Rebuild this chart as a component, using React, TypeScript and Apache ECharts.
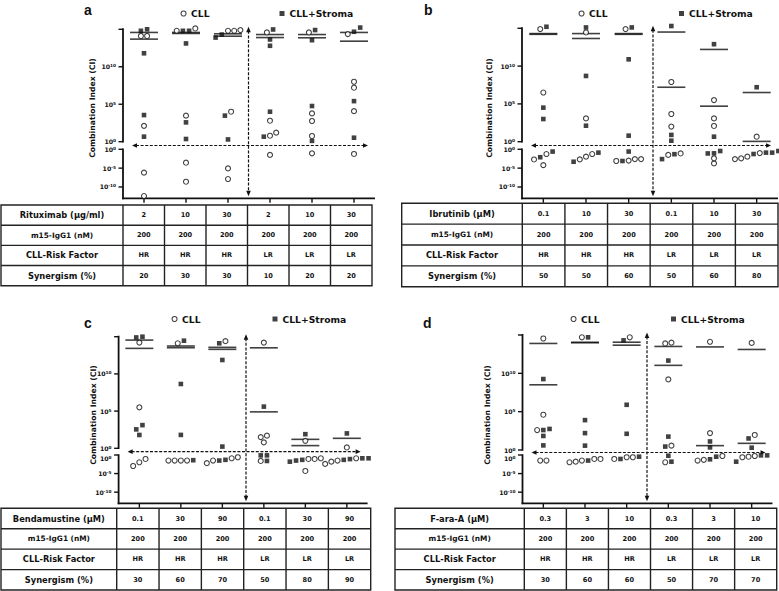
import React, { useEffect, useRef } from "react";
import * as echarts from "echarts";

// ---------------- data ----------------
const riskFactors = ["HR", "HR", "HR", "LR", "LR", "LR"];
const m15Doses = ["200", "200", "200", "200", "200", "200"];
const rowLabels = ["m15-IgG1 (nM)", "CLL-Risk Factor", "Synergism (%)"];
const upperTicks = [1, 1e5, 1e10, 1e15];
const lowerTicks = [1e-10, 1e-5, 1];
const upperMin = 1;
const upperMax = 1e15;
const lowerMin = 1e-13;
const lowerMax = 1;

// Panel a – Rituximab
const drugA = "Rituximab (μg/ml)";
const dosesA = ["2", "10", "30", "2", "10", "30"];
const synergismA = [20, 30, 30, 10, 20, 20];
const cllA = [
  [1.3e14, 1.3e14, 1.3e2, 6.3e-7, 4e-13],
  [6.3e14, 1.3e15, 3e3, 2.8e-4, 2.5e-9],
  [7.9e14, 6.3e14, 6.3e14, 1e4, 8.5e-6, 1.3e-8],
  [3.8e14, 6.3e2, 16, 6.3, 3.2e-2],
  [3.8e14, 6e3, 5.8e2, 5.8, 8.5e-2],
  [2.3e14, 1e8, 1.6e7, 1.2e4, 5.8e-2],
];
const stromaA = [
  [1e15, 6.3e14, 6.3e11, 3.6e3, 4.7],
  [6.3e14, 6.3e14, 1.3e13, 3.8e2, 2.3],
  [2e14, 7.9e13, 3e3, 2],
  [9.5e14, 4.4e13, 6.3e12, 1e4, 4.7],
  [7.9e14, 3.5e13, 5.8e4, 1.3],
  [1.7e15, 4.7e14, 2.6e5, 3.4],
];
const meanCllA = [4.9e13, 3.8e14, 2.5e14, 7.9e13, 7.4e13, 2.6e13];
const meanStromaA = [3.8e14, 2.8e14, 1.2e14, 2e14, 2e14, 3.8e14];

// Panel b – Ibrutinib
const drugB = "Ibrutinib (μM)";
const dosesB = ["0.1", "10", "30", "0.1", "10", "30"];
const synergismB = [50, 50, 60, 50, 60, 80];
const cllB = [
  [7.9e14, 3.2e6, 5.6e-2, 2e-3, 6.3e-5],
  [2.8e14, 1.2e3, 5.6e-2, 1.1e-2, 2.1e-3],
  [7.9e14, 2.5e-3, 7.9e-4, 1e-3, 2.5e-3],
  [7.9e7, 4.6e3, 1e2, 7.9e-2, 3.2e-2],
  [3.2e5, 1.2e3, 1.2e2, 4e-3, 1.8e-4],
  [4.6, 0.1, 1.1e-2, 2.5e-3, 4e-3],
];
const stromaB = [
  [1.6e15, 3.2e4, 1e3, 0.25, 7.9e-3],
  [1.3e15, 5e8, 1.3e2, 0.13, 5e-4],
  [1.3e15, 7.9e10, 6.3, 0.25, 7.9e-4],
  [2e15, 7.9, 1.35, 5e-2, 2.5e-3],
  [7.9e12, 4.6, 7.9e-2, 0.35, 8.5e-2],
  [1.6e7, 0.13, 5.6e-2, 0.13, 0.35],
];
const meanCllB = [1.6e14, 4.5e13, 1.6e14, 1.6e7, 5e4, 1.1];
const meanStromaB = [2e14, 2e14, 2e14, 3.2e14, 1.6e12, 3.2e6];

// Panel c – Bendamustine
const drugC = "Bendamustine (μM)";
const dosesC = ["0.1", "30", "90", "0.1", "30", "90"];
const synergismC = [30, 60, 70, 50, 80, 90];
const cllC = [
  [1.6e14, 3.2e5, 8.5e-2, 1.1e-2, 1.1e-3],
  [1.3e14, 3.2e-2, 3.2e-2, 3.2e-2, 3.2e-2],
  [2.5e14, 0.13, 6.3e-3, 3.2e-2, 0.25],
  [1.6e14, 50, 32, 6.3, 2.5e-2],
  [10, 0.13, 8.5e-2, 8.5e-2, 5e-5],
  [1.3, 0.13, 1.6e-2, 4e-3, 3.2e-2],
];
const stromaC = [
  [7.9e14, 1e15, 1.3e3, 3.5e2, 62],
  [2.9e14, 4.4e8, 63, 4e-2],
  [1.3e14, 7.4e11, 1.7, 5e-2, 3.2e-2],
  [4e5, 0.8, 0.8, 2.5e-2],
  [79, 5e-2, 3.2e-2, 1.6e-2],
  [1e2, 0.13, 7.9e-2, 0.13, 5e-2],
];
const meanCllC = [2.7e13, 3.3e13, 3.7e13, 3.2e13, 2.3, null];
const meanStromaC = [3.5e14, 5.6e13, 2e13, 7.9e4, 16, 22];

// Panel d – F-ara-A
const drugD = "F-ara-A (μM)";
const dosesD = ["0.3", "3", "10", "0.3", "3", "10"];
const synergismD = [30, 60, 60, 50, 70, 70];
const cllD = [
  [3.5e14, 4e4, 4e2, 3.2e-2, 3.2e-2],
  [5e14, 8.5e-2, 3.2e-2, 1.6e-2, 1.1e-2, 8.5e-2],
  [5e14, 8.5e-2, 0.25, 0.25],
  [7.9e13, 1e14, 1.6e9, 3.7, 1.1e-2],
  [1.3e14, 1.6e2, 0.54, 3.2e-2, 5e-2],
  [9.3e13, 91, 0.54, 0.35, 0.25],
];
const stromaD = [
  [1.8e9, 4e2, 5.6e2, 68, 4],
  [5e14, 7.9e3, 1.6e2, 3.7, 3.2e-2],
  [2e14, 7.9e5, 1.3e2, 0.35, 8.5e-2],
  [4.6e11, 56, 2.8, 0.63, 1.6e-2],
  [13, 2.2, 6.9e-2, 0.35],
  [32, 2, 0.8, 0.8, 1.6e-2],
];
const meanCllD = [7.9e13, 1.1e14, 1.15e14, 3.2e13, 2.8e13, 1.3e13];
const meanStromaD = [3.2e8, 1e14, 4.7e13, 1.1e11, 3.7, 7.4];

// ---------------- layout (pixels) ----------------
const layoutA = { gridLeft: 123, gridW: 252, upTop: 29.3, upH: 112.4, lowTop: 149.3, lowH: 49, vx: 248.5, nameX: 92, nameY: 108, letterX: 84, letterY: 3, legendY: 15, legCllX: 183, legStrX: 282, tLeft: 1, tFirst: 123, tRight: 372, tTop: 205, tBottom: 285.7 };
const layoutB = { gridLeft: 522, gridW: 256, upTop: 28.3, upH: 113.4, lowTop: 149.3, lowH: 49, vx: 653, nameX: 489, nameY: 108, letterX: 424, letterY: 3, legendY: 15, legCllX: 581, legStrX: 681.5, tLeft: 401.7, tFirst: 522.3, tRight: 778, tTop: 203.3, tBottom: 286.7 };
const layoutC = { gridLeft: 118.6, gridW: 249, upTop: 336.7, upH: 111.6, lowTop: 455, lowH: 48.3, vx: 246, nameX: 93, nameY: 415, letterX: 84, letterY: 316, legendY: 320.5, legCllX: 174, legStrX: 275, tLeft: 1, tFirst: 116.7, tRight: 370.7, tTop: 508.3, tBottom: 590 };
const layoutD = { gridLeft: 522.5, gridW: 250, upTop: 335, upH: 115, lowTop: 455, lowH: 48.3, vx: 647, nameX: 487.5, nameY: 415, letterX: 423, letterY: 316, legendY: 320.5, legCllX: 573, legStrX: 673.5, tLeft: 395, tFirst: 524.3, tRight: 776.7, tTop: 508.3, tBottom: 590 };

const PANELS = [
  { letter: "a", drug: drugA, doses: dosesA, syn: synergismA, cll: cllA, stroma: stromaA, meanCll: meanCllA, meanStroma: meanStromaA, L: layoutA },
  { letter: "b", drug: drugB, doses: dosesB, syn: synergismB, cll: cllB, stroma: stromaB, meanCll: meanCllB, meanStroma: meanStromaB, L: layoutB },
  { letter: "c", drug: drugC, doses: dosesC, syn: synergismC, cll: cllC, stroma: stromaC, meanCll: meanCllC, meanStroma: meanStromaC, L: layoutC },
  { letter: "d", drug: drugD, doses: dosesD, syn: synergismD, cll: cllD, stroma: stromaD, meanCll: meanCllD, meanStroma: meanStromaD, L: layoutD },
];

const FONT = "DejaVu Sans";
const INK = "#111";

function swarm(cll: number[][], stroma: number[][], upper: boolean, pxPerDec: number) {
  const out: { cll: any[]; stroma: any[] } = { cll: [], stroma: [] };
  cll.forEach((_, cat) => {
    const pts: { v: number; kind: "cll" | "stroma" }[] = [];
    cll[cat].forEach((v) => { if ((v >= 1) === upper) pts.push({ v, kind: "cll" }); });
    stroma[cat].forEach((v) => { if ((v >= 1) === upper) pts.push({ v, kind: "stroma" }); });
    pts.sort((a, b) => a.v - b.v);
    const clusters: (typeof pts)[] = [];
    let cur: typeof pts = [];
    let prev = -Infinity;
    pts.forEach((p) => {
      const y = Math.log10(p.v) * pxPerDec;
      if (cur.length && y - prev < 4.6) cur.push(p);
      else { if (cur.length) clusters.push(cur); cur = [p]; }
      prev = y;
    });
    if (cur.length) clusters.push(cur);
    clusters.forEach((cl) => {
      const n = cl.length;
      cl.forEach((p, k) => {
        out[p.kind].push({ value: [cat, p.v], symbolOffset: [(k - (n - 1) / 2) * 6.2, 0] });
      });
    });
  });
  return out;
}

const powLabel = (v: number) => `{b|10}{s|${Math.round(Math.log10(v))}}`;
const richPow = {
  b: { fontSize: 6.2, fontWeight: "bold", fontFamily: FONT, color: INK, lineHeight: 6, verticalAlign: "bottom" },
  s: { fontSize: 4.3, fontWeight: "bold", fontFamily: FONT, color: INK, lineHeight: 6, verticalAlign: "top" },
};

function yAxisDef(gridIndex: number, min: number, max: number, ticks: number[], pushDown: boolean) {
  return {
    type: "log", logBase: 10, gridIndex, min, max,
    axisLine: { show: false },
    axisTick: { show: false },
    axisLabel: { show: true, customValues: ticks, formatter: powLabel, rich: richPow, margin: 7,
      verticalAlignMaxLabel: pushDown ? "top" : undefined },
    splitLine: { show: false },
    minorTick: { show: false },
  };
}

// axis lines + ticks drawn as thin filled bars (frame of each grid, ticks at the label values)
function axisDecor(L: any, nCats: number) {
  const els: any[] = [];
  const bar = (x1: number, y1: number, x2: number, y2: number, w: number) => {
    const h = w / 2;
    const pts = x1 === x2
      ? [[x1 - h, y1], [x1 + h, y1], [x1 + h, y2], [x1 - h, y2]]
      : [[x1, y1 - h], [x2, y1 - h], [x2, y1 + h], [x1, y1 + h]];
    return { type: "polygon", silent: true, shape: { points: pts }, style: { fill: INK } };
  };
  const x0 = L.gridLeft;
  const upBottom = L.upTop + L.upH;
  const bottom = L.lowTop + L.lowH;
  const yUp = (v: number) => upBottom - ((Math.log10(v) - Math.log10(upperMin)) / (Math.log10(upperMax) - Math.log10(upperMin))) * L.upH;
  const yLo = (v: number) => bottom - ((Math.log10(v) - Math.log10(lowerMin)) / (Math.log10(lowerMax) - Math.log10(lowerMin))) * L.lowH;
  els.push(bar(x0, L.upTop - 1, x0, upBottom + 0.7, 1.8));
  els.push(bar(x0, L.lowTop - 0.7, x0, bottom + 0.9, 1.8));
  els.push(bar(x0 - 0.9, bottom, x0 + L.gridW, bottom, 1.8));
  upperTicks.forEach((v) => { const y = yUp(v); els.push(bar(x0 - 4.5, y, x0, y, 1.4)); });
  lowerTicks.forEach((v) => { const y = yLo(v); els.push(bar(x0 - 4.5, y, x0, y, 1.4)); });
  const band = L.gridW / nCats;
  for (let k = 0; k < nCats; k++) {
    const x = x0 + (k + 0.5) * band;
    els.push(bar(x, bottom, x, bottom + 4.5, 1.4));
  }
  return els;
}

function buildOption() {
  const grid: any[] = [], xAxis: any[] = [], yAxis: any[] = [], series: any[] = [], legend: any[] = [], graphic: any[] = [];
  PANELS.forEach((p, i) => {
    const L = p.L;
    const up = 2 * i, lo = 2 * i + 1;
    grid.push({ left: L.gridLeft, top: L.upTop, width: L.gridW, height: L.upH });
    grid.push({ left: L.gridLeft, top: L.lowTop, width: L.gridW, height: L.lowH });
    const cats = p.doses.map((d, k) => `${d} ${riskFactors[k]}`);
    xAxis.push({ type: "category", gridIndex: up, data: cats, show: false });
    xAxis.push({ type: "category", gridIndex: lo, data: cats, axisLine: { show: false }, axisTick: { show: false }, axisLabel: { show: false }, splitLine: { show: false } });
    const tight = L.lowTop - (L.upTop + L.upH) < 7;
    yAxis.push(yAxisDef(up, upperMin, upperMax, upperTicks, false));
    yAxis.push(yAxisDef(lo, lowerMin, lowerMax, lowerTicks, tight));

    const upPts = swarm(p.cll, p.stroma, true, L.upH / 15);
    const loPts = swarm(p.cll, p.stroma, false, L.lowH / 13);
    const circle = { symbol: "circle", symbolSize: 5, itemStyle: { color: "#fff", borderColor: INK, borderWidth: 1.1 } };
    const square = { symbol: "rect", symbolSize: 4.6, itemStyle: { color: INK } };
    [[up, upPts], [lo, loPts]].forEach(([gi, pts]: any) => {
      series.push({ type: "scatter", name: "CLL", xAxisIndex: gi, yAxisIndex: gi, data: pts.cll, clip: false, silent: true, z: 3, ...circle });
      series.push({ type: "scatter", name: "CLL+Stroma", xAxisIndex: gi, yAxisIndex: gi, data: pts.stroma, clip: false, silent: true, z: 4, ...square });
    });
    const means: any[] = [];
    [p.meanCll, p.meanStroma].forEach((arr) => arr.forEach((m, cat) => { if (m != null) means.push({ value: [cat, m] }); }));
    series.push({ type: "scatter", name: "mean", xAxisIndex: up, yAxisIndex: up, data: means, clip: false, silent: true, z: 2, symbol: "rect", symbolSize: [28, 1.6], itemStyle: { color: INK } });

    legend.push({ left: L.legCllX - 2.5, top: L.legendY - 6, padding: 0, itemWidth: 5, itemHeight: 5, selectedMode: false,
      textStyle: { fontFamily: FONT, fontWeight: "bold", fontSize: 9.2, color: INK },
      data: [{ name: "CLL", icon: "circle", itemStyle: { color: "#fff", borderColor: INK, borderWidth: 1.1 } }] });
    legend.push({ left: L.legStrX - 2.5, top: L.legendY - 6, padding: 0, itemWidth: 5, itemHeight: 5, selectedMode: false,
      textStyle: { fontFamily: FONT, fontWeight: "bold", fontSize: 9.2, color: INK },
      data: [{ name: "CLL+Stroma", icon: "rect", itemStyle: { color: INK } }] });

    graphic.push({ type: "text", x: L.letterX, y: L.letterY, silent: true,
      style: { text: p.letter, fontFamily: "Liberation Sans", fontWeight: "bold", fontSize: 14, fill: INK, align: "left", verticalAlign: "top" } });
    graphic.push({ type: "text", x: L.nameX, y: L.nameY, rotation: Math.PI / 2, silent: true,
      style: { text: "Combination Index (CI)", fontFamily: FONT, fontWeight: "bold", fontSize: 7.7, fill: INK, align: "center", verticalAlign: "middle" } });

    const dash = { stroke: INK, lineWidth: 1.2, lineDash: [3, 1.6] };
    const hy = (L.upTop + L.upH + L.lowTop) / 2;
    const hx1 = L.gridLeft + 9, hx2 = L.gridLeft + L.gridW - 7;
    graphic.push({ type: "line", silent: true, shape: { x1: hx1 + 4, y1: hy, x2: hx2 - 4, y2: hy }, style: dash });
    graphic.push({ type: "polygon", silent: true, shape: { points: [[hx1, hy], [hx1 + 5, hy - 2.3], [hx1 + 5, hy + 2.3]] }, style: { fill: INK } });
    graphic.push({ type: "polygon", silent: true, shape: { points: [[hx2, hy], [hx2 - 5, hy - 2.3], [hx2 - 5, hy + 2.3]] }, style: { fill: INK } });
    const vy1 = L.upTop - 2.5, vy2 = L.lowTop + L.lowH - 2;
    graphic.push({ type: "line", silent: true, shape: { x1: L.vx, y1: vy1 + 4, x2: L.vx, y2: vy2 - 4 }, style: dash });
    graphic.push({ type: "polygon", silent: true, shape: { points: [[L.vx, vy1], [L.vx - 2.3, vy1 + 5.5], [L.vx + 2.3, vy1 + 5.5]] }, style: { fill: INK } });
    graphic.push({ type: "polygon", silent: true, shape: { points: [[L.vx, vy2], [L.vx - 2.3, vy2 - 5.5], [L.vx + 2.3, vy2 - 5.5]] }, style: { fill: INK } });

    graphic.push(...axisDecor(L, cats.length));

    const rows = [[p.drug, ...p.doses], [rowLabels[0], ...m15Doses], [rowLabels[1], ...riskFactors], [rowLabels[2], ...p.syn.map(String)]];
    const rowH = (L.tBottom - L.tTop) / rows.length;
    const colW = (L.tRight - L.tFirst) / 6;
    const border = { stroke: "#222", lineWidth: 1.4 };
    graphic.push({ type: "rect", silent: true, shape: { x: L.tLeft, y: L.tTop, width: L.tRight - L.tLeft, height: L.tBottom - L.tTop }, style: { ...border, fill: "none" } });
    for (let r = 1; r < rows.length; r++) {
      const y = L.tTop + r * rowH;
      graphic.push({ type: "line", silent: true, shape: { x1: L.tLeft, y1: y, x2: L.tRight, y2: y }, style: border });
    }
    for (let c = 0; c < 6; c++) {
      const x = L.tFirst + c * colW;
      graphic.push({ type: "line", silent: true, shape: { x1: x, y1: L.tTop, x2: x, y2: L.tBottom }, style: border });
    }
    rows.forEach((row, r) => {
      const cy = L.tTop + (r + 0.5) * rowH;
      row.forEach((txt, c) => {
        const cx = c === 0 ? (L.tLeft + L.tFirst) / 2 : L.tFirst + (c - 0.5) * colW;
        const fs = c === 0 ? (r === 1 ? 7.4 : 8.3) : 6.6;
        graphic.push({ type: "text", silent: true, x: cx, y: cy,
          style: { text: txt, fontFamily: FONT, fontWeight: "bold", fontSize: fs, fill: INK, align: "center", verticalAlign: "middle" } });
      });
    });
  });

  return { animation: false, backgroundColor: "#fff", grid, xAxis, yAxis, series, legend, graphic };
}

export default function App() {
  const ref = useRef<HTMLDivElement>(null);
  useEffect(() => {
    if (!ref.current) return;
    const chart = echarts.init(ref.current, null, { renderer: "svg" });
    chart.setOption(buildOption() as any);
    return () => chart.dispose();
  }, []);
  return <div ref={ref} style={{ position: "absolute", left: 0, top: 0, width: 779, height: 591, background: "#fff" }} />;
}
